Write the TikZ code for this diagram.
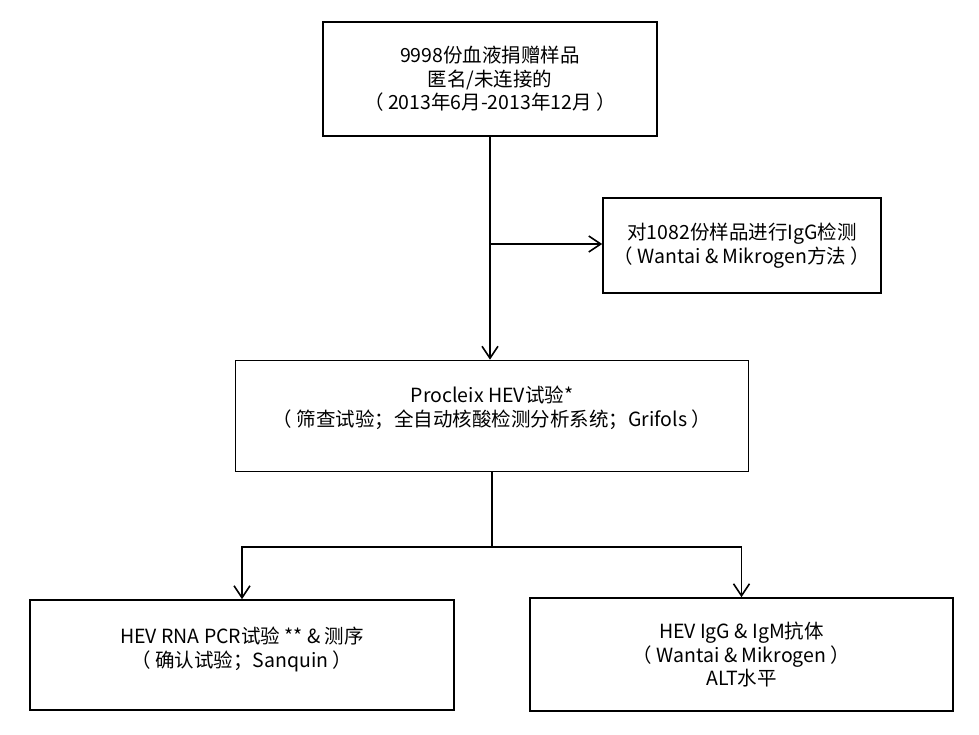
\documentclass[tikz,border=0pt]{standalone}
\usepackage{fontspec}
\setmainfont{Noto Sans CJK SC}
\usetikzlibrary{arrows.meta}
\tikzset{box/.style={draw, line width=1.6pt, rectangle, align=center, inner sep=0pt,
    font=\fontsize{19.5}{23.5}\selectfont},
  flow/.style={line width=1.6pt, -{Straight Barb[length=12pt,width=16pt,line width=1.6pt]}}}

\begin{document}
\begin{tikzpicture}
  [x=1pt,y=-1pt]
  \useasboundingbox (0,0) rectangle (979,734);
  \node[box, minimum width=334pt, minimum height=114pt] (donors) at (490,79)
    {9998份血液捐赠样品\\匿名/未连接的\\（ 2013年6月-2013年12月 ）};
  \node[box, minimum width=278pt, minimum height=95pt] (igg) at (742,245.5)
    {对1082份样品进行IgG检测\\（ Wantai \& Mikrogen方法 ）};
  \node[box, minimum width=513pt, minimum height=111pt] (procleix) at (492,416)
    {Procleix HEV试验*\\（ 筛查试验；全自动核酸检测分析系统；Grifols ）\\[-3.5pt]};
  \node[box, minimum width=424pt, minimum height=110pt] (pcr) at (242,655)
    {HEV RNA PCR试验 ** \& 测序\\（ 确认试验；Sanquin ）\\[-7.5pt]};
  \node[box, minimum width=423pt, minimum height=113pt] (ab) at (741.5,654.5)
    {HEV IgG \& IgM抗体\\（ Wantai \& Mikrogen ）\\ALT水平};
  % main line with side branch
  \coordinate (branch) at (donors.south |- 0,244);
  \draw[flow] (donors.south) -- (donors.south |- procleix.north);
  \draw[flow] (branch) -- (branch -| igg.west);
  % split below screening
  \coordinate (split) at (procleix.south |- 0,547);
  \draw[line width=1.6pt] (procleix.south) -- (split);
  \foreach \to in {pcr,ab}
    \draw[flow] (split) -| (\to.north);
\end{tikzpicture}
\end{document}
